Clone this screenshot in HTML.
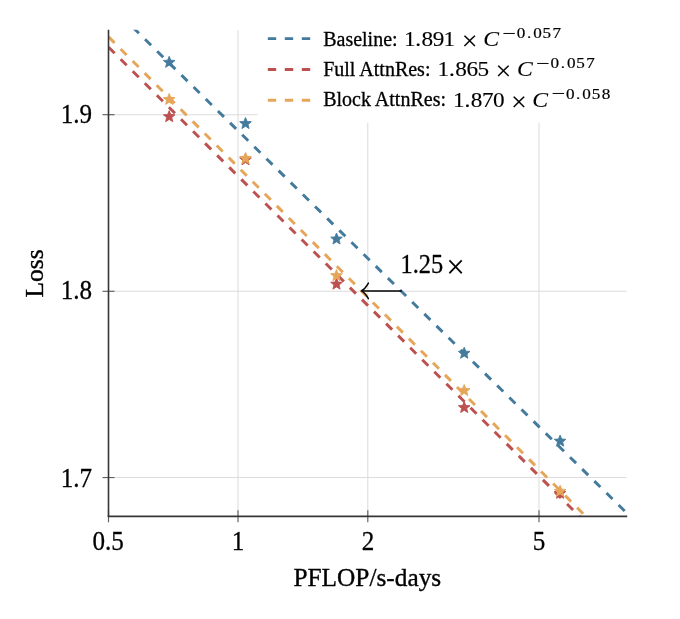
<!DOCTYPE html>
<html lang="en"><head><meta charset="utf-8"><title>Scaling law: Loss vs PFLOP/s-days</title>
<style>
html,body{margin:0;padding:0;background:#fff;}
body{width:680px;height:619px;overflow:hidden;}
svg{display:block;}
text{font-family:"Liberation Serif","DejaVu Serif",serif;fill:#000;stroke:#000;stroke-linejoin:round;}
.big{font-size:26.8px;stroke-width:0.3px;}
.big.lab{font-size:26.1px;stroke-width:0.35px;}
.leg{font-size:20px;stroke-width:0.3px;}
.m{stroke-width:0.12px;}
.m2{stroke-width:0.18px;}
</style></head><body>
<svg width="680" height="619" viewBox="0 0 680 619" role="img" aria-label="Loss versus PFLOP/s-days scaling curves">
<rect width="680" height="619" fill="#fff"/>
<defs><clipPath id="ax"><rect x="108.50" y="29.70" width="518.10" height="486.65"/></clipPath></defs>
<g stroke="#dcdcdc" stroke-width="1.05" fill="none">
<line x1="238.00" y1="29.70" x2="238.00" y2="516.35"/>
<line x1="367.80" y1="29.70" x2="367.80" y2="516.35"/>
<line x1="539.00" y1="29.70" x2="539.00" y2="516.35"/>
<line x1="108.50" y1="477.55" x2="626.60" y2="477.55"/>
<line x1="108.50" y1="291.30" x2="626.60" y2="291.30"/>
<line x1="108.50" y1="114.70" x2="626.60" y2="114.70"/>
</g>
<g clip-path="url(#ax)" fill="none" stroke-width="2.95" stroke-dasharray="8.50 8.53">
<line x1="108.60" y1="3.48" x2="627.60" y2="513.81" stroke="#447a9c"/>
<line x1="108.60" y1="47.19" x2="627.60" y2="564.26" stroke="#bc5150"/>
<line x1="108.60" y1="36.89" x2="627.60" y2="558.37" stroke="#e6a65a"/>
</g>
<g stroke-linejoin="miter" stroke-miterlimit="2">
<polygon points="169.20,56.30 170.78,60.23 175.00,60.51 171.75,63.23 172.79,67.34 169.20,65.08 165.61,67.34 166.65,63.23 163.40,60.51 167.62,60.23" fill="#447a9c" stroke="#447a9c" stroke-width="0.9"/>
<polygon points="245.50,117.50 247.08,121.43 251.30,121.71 248.05,124.43 249.09,128.54 245.50,126.28 241.91,128.54 242.95,124.43 239.70,121.71 243.92,121.43" fill="#447a9c" stroke="#447a9c" stroke-width="0.9"/>
<polygon points="336.50,233.00 338.08,236.93 342.30,237.21 339.05,239.93 340.09,244.04 336.50,241.78 332.91,244.04 333.95,239.93 330.70,237.21 334.92,236.93" fill="#447a9c" stroke="#447a9c" stroke-width="0.9"/>
<polygon points="464.20,347.20 465.78,351.13 470.00,351.41 466.75,354.13 467.79,358.24 464.20,355.98 460.61,358.24 461.65,354.13 458.40,351.41 462.62,351.13" fill="#447a9c" stroke="#447a9c" stroke-width="0.9"/>
<polygon points="560.10,435.10 561.68,439.03 565.90,439.31 562.65,442.03 563.69,446.14 560.10,443.88 556.51,446.14 557.55,442.03 554.30,439.31 558.52,439.03" fill="#447a9c" stroke="#447a9c" stroke-width="0.9"/>
</g>
<g stroke-linejoin="miter" stroke-miterlimit="2">
<polygon points="169.20,110.60 170.78,114.53 175.00,114.81 171.75,117.53 172.79,121.64 169.20,119.38 165.61,121.64 166.65,117.53 163.40,114.81 167.62,114.53" fill="#bc5150" stroke="#bc5150" stroke-width="0.9"/>
<polygon points="245.50,153.70 247.08,157.63 251.30,157.91 248.05,160.63 249.09,164.74 245.50,162.48 241.91,164.74 242.95,160.63 239.70,157.91 243.92,157.63" fill="#bc5150" stroke="#bc5150" stroke-width="0.9"/>
<polygon points="336.50,278.10 338.08,282.03 342.30,282.31 339.05,285.03 340.09,289.14 336.50,286.88 332.91,289.14 333.95,285.03 330.70,282.31 334.92,282.03" fill="#bc5150" stroke="#bc5150" stroke-width="0.9"/>
<polygon points="464.20,401.50 465.78,405.43 470.00,405.71 466.75,408.43 467.79,412.54 464.20,410.28 460.61,412.54 461.65,408.43 458.40,405.71 462.62,405.43" fill="#bc5150" stroke="#bc5150" stroke-width="0.9"/>
<polygon points="560.10,487.30 561.68,491.23 565.90,491.51 562.65,494.23 563.69,498.34 560.10,496.08 556.51,498.34 557.55,494.23 554.30,491.51 558.52,491.23" fill="#bc5150" stroke="#bc5150" stroke-width="0.9"/>
</g>
<g stroke-linejoin="miter" stroke-miterlimit="2">
<polygon points="169.20,93.40 170.78,97.33 175.00,97.61 171.75,100.33 172.79,104.44 169.20,102.18 165.61,104.44 166.65,100.33 163.40,97.61 167.62,97.33" fill="#e6a65a" stroke="#e6a65a" stroke-width="0.9"/>
<polygon points="245.50,152.40 247.08,156.33 251.30,156.61 248.05,159.33 249.09,163.44 245.50,161.18 241.91,163.44 242.95,159.33 239.70,156.61 243.92,156.33" fill="#e6a65a" stroke="#e6a65a" stroke-width="0.9"/>
<polygon points="336.50,269.60 338.08,273.53 342.30,273.81 339.05,276.53 340.09,280.64 336.50,278.38 332.91,280.64 333.95,276.53 330.70,273.81 334.92,273.53" fill="#e6a65a" stroke="#e6a65a" stroke-width="0.9"/>
<polygon points="464.20,384.50 465.78,388.43 470.00,388.71 466.75,391.43 467.79,395.54 464.20,393.28 460.61,395.54 461.65,391.43 458.40,388.71 462.62,388.43" fill="#e6a65a" stroke="#e6a65a" stroke-width="0.9"/>
<polygon points="560.10,485.20 561.68,489.13 565.90,489.41 562.65,492.13 563.69,496.24 560.10,493.98 556.51,496.24 557.55,492.13 554.30,489.41 558.52,489.13" fill="#e6a65a" stroke="#e6a65a" stroke-width="0.9"/>
</g>
<rect x="257.7" y="20" width="369.3" height="102.6" fill="#fff"/>
<line x1="267.8" y1="38.60" x2="310.6" y2="38.60" stroke="#447a9c" stroke-width="2.95" stroke-dasharray="8.4 8.6"/>
<line x1="267.8" y1="69.50" x2="310.6" y2="69.50" stroke="#bc5150" stroke-width="2.95" stroke-dasharray="8.4 8.6"/>
<line x1="267.8" y1="100.30" x2="310.6" y2="100.30" stroke="#e6a65a" stroke-width="2.95" stroke-dasharray="8.4 8.6"/>
<text class="leg" x="323.2" y="45.50">Baseline:</text>
<text class="m" transform="translate(403.90 45.70) scale(1.160 1)" x="0.00 9.83 15.26 24.91 34.09" y="0" style="font-size:20px" >1.891</text>
<text class="m" x="461.80" y="50.00" style="font-size:28px">×</text>
<text class="m" x="483.20" y="45.80" font-style="italic" style="font-size:21px" textLength="15.8" lengthAdjust="spacingAndGlyphs">C</text>
<text class="m" x="502.30" y="39.50" style="font-size:20px" textLength="13.7" lengthAdjust="spacingAndGlyphs">−</text>
<text class="m2" transform="translate(516.81 38.00) scale(1.200 1)" x="0.00 8.45 13.67 21.50 29.83" y="0" style="font-size:14.3px" >0.057</text>
<text class="leg" x="323.2" y="75.90">Full AttnRes:</text>
<text class="m" transform="translate(437.60 76.10) scale(1.160 1)" x="0.00 9.83 15.26 24.91 34.39" y="0" style="font-size:20px" >1.865</text>
<text class="m" x="495.50" y="80.40" style="font-size:28px">×</text>
<text class="m" x="516.90" y="76.20" font-style="italic" style="font-size:21px" textLength="15.8" lengthAdjust="spacingAndGlyphs">C</text>
<text class="m" x="536.00" y="69.90" style="font-size:20px" textLength="13.7" lengthAdjust="spacingAndGlyphs">−</text>
<text class="m2" transform="translate(550.51 68.40) scale(1.200 1)" x="0.00 8.45 13.67 21.50 29.83" y="0" style="font-size:14.3px" >0.057</text>
<text class="leg" x="323.2" y="106.40">Block AttnRes:</text>
<text class="m" transform="translate(453.00 106.60) scale(1.160 1)" x="0.00 9.83 15.26 24.91 34.39" y="0" style="font-size:20px" >1.870</text>
<text class="m" x="510.90" y="110.90" style="font-size:28px">×</text>
<text class="m" x="532.30" y="106.70" font-style="italic" style="font-size:21px" textLength="15.8" lengthAdjust="spacingAndGlyphs">C</text>
<text class="m" x="551.40" y="100.40" style="font-size:20px" textLength="13.7" lengthAdjust="spacingAndGlyphs">−</text>
<text class="m2" transform="translate(565.91 98.90) scale(1.200 1)" x="0.00 8.45 13.67 21.50 29.83" y="0" style="font-size:14.3px" >0.058</text>
<g stroke="#606060" stroke-width="1.15" fill="none">
<line x1="108.50" y1="510.35" x2="108.50" y2="522.35"/>
<line x1="238.00" y1="510.35" x2="238.00" y2="522.35"/>
<line x1="367.80" y1="510.35" x2="367.80" y2="522.35"/>
<line x1="539.00" y1="510.35" x2="539.00" y2="522.35"/>
<line x1="102.50" y1="477.55" x2="114.50" y2="477.55"/>
<line x1="102.50" y1="291.30" x2="114.50" y2="291.30"/>
<line x1="102.50" y1="114.70" x2="114.50" y2="114.70"/>
</g>
<g stroke="#363636" stroke-width="1.6" fill="none">
<line x1="108.50" y1="29.70" x2="108.50" y2="517.10"/>
<line x1="107.75" y1="516.35" x2="627.20" y2="516.35"/>
</g>
<text class="big" x="92.45" y="549.6" textLength="31.41" lengthAdjust="spacingAndGlyphs">0.5</text>
<text class="big" x="231.75" y="549.6" textLength="12.55" lengthAdjust="spacingAndGlyphs">1</text>
<text class="big" x="361.70" y="549.6" textLength="12.55" lengthAdjust="spacingAndGlyphs">2</text>
<text class="big" x="532.80" y="549.6" textLength="12.55" lengthAdjust="spacingAndGlyphs">5</text>
<text class="big" x="60.75" y="486.95" textLength="31.37" lengthAdjust="spacingAndGlyphs">1.7</text>
<text class="big" x="60.75" y="299.45" textLength="31.37" lengthAdjust="spacingAndGlyphs">1.8</text>
<text class="big" x="60.75" y="123.45" textLength="31.37" lengthAdjust="spacingAndGlyphs">1.9</text>
<text class="big lab" x="293.4" y="585.8" textLength="147.82" lengthAdjust="spacingAndGlyphs">PFLOP/s-days</text>
<text class="big lab" transform="translate(43.15 297.6) rotate(-90)" textLength="48.16" lengthAdjust="spacingAndGlyphs">Loss</text>
<line x1="362" y1="290.90" x2="401.8" y2="290.90" stroke="#000" stroke-width="1.5"/>
<path d="M368.4 283.10 C 366.3 286.90 364 289.60 361.3 290.90 C 364 292.20 366.3 294.90 368.4 298.70" fill="none" stroke="#000" stroke-width="1.5" stroke-linecap="round" stroke-linejoin="round"/>
<text class="big" x="400.56" y="273.0" textLength="42.64" lengthAdjust="spacingAndGlyphs">1.25</text>
<text class="m" x="446.2" y="278.0" style="font-size:33px">×</text>
</svg>
</body></html>
